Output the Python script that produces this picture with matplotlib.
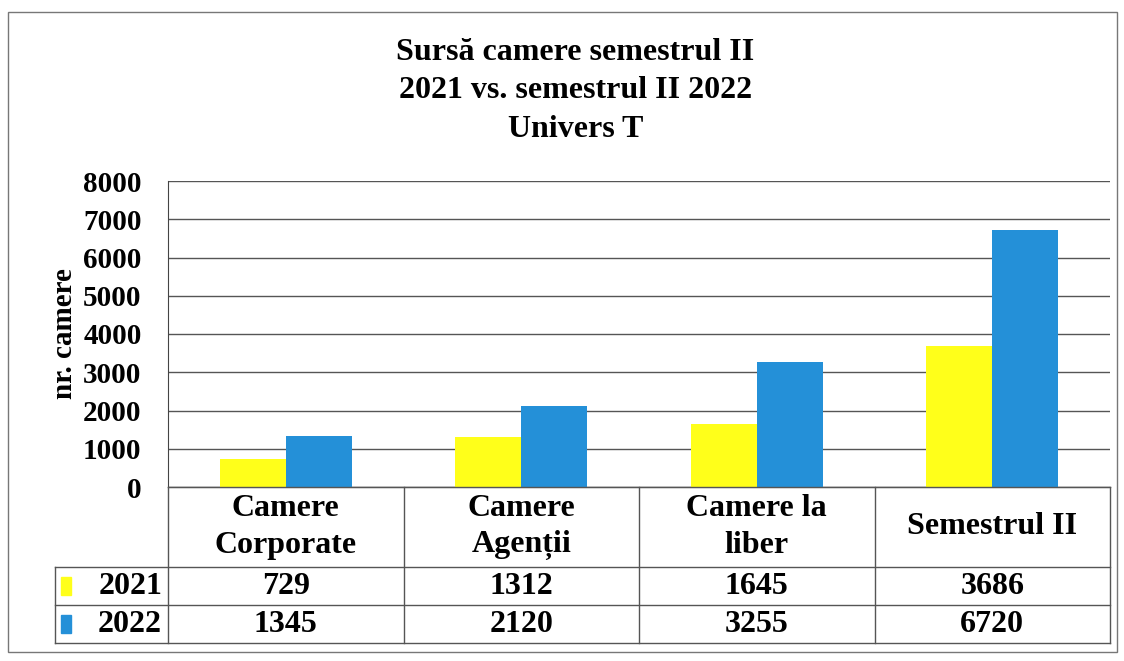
import matplotlib
matplotlib.use("Agg")
import matplotlib.pyplot as plt
from matplotlib.patches import Rectangle
from matplotlib.lines import Line2D

categories = ["Camere\nCorporate", "Camere\nAgenții", "Camere la\nliber", "Semestrul II"]
series_names = ["2021", "2022"]
values_2021 = [729, 1312, 1645, 3686]
values_2022 = [1345, 2120, 3255, 6720]
colors = ["#FFFF1A", "#2490D8"]
title = "Sursă camere semestrul II\n2021 vs. semestrul II 2022\nUnivers T"
ylabel = "nr. camere"
yticks = [0, 1000, 2000, 3000, 4000, 5000, 6000, 7000, 8000]

plt.rcParams['font.family'] = ['Liberation Serif', 'DejaVu Serif']
plt.rcParams['font.weight'] = 'bold'

W, H = 1124, 661
fig = plt.figure(figsize=(W / 100, H / 100), dpi=100)

def fx(px):
    return px / W

def fy(py):
    return 1 - py / H

# plot area
L, R, T, B = 168, 1110, 181, 487
ax = fig.add_axes([fx(L), fy(B), fx(R - L), fy(T) - fy(B)])
n = len(categories)
xs = list(range(n))
bw = 0.28
ax.bar([x - bw / 2 for x in xs], values_2021, width=bw, color=colors[0], zorder=3)
ax.bar([x + bw / 2 for x in xs], values_2022, width=bw, color=colors[1], zorder=3)
ax.set_xlim(-0.5, n - 0.5)
ax.set_ylim(0, 8000)
ax.set_yticks(yticks)
ax.set_yticklabels([str(v) for v in yticks], fontsize=21, fontweight='bold')
ax.tick_params(axis='y', length=0, pad=19)
ax.set_xticks([])
ax.grid(axis='y', color='#555555', linewidth=1.0, zorder=0)
for s in ['top', 'right']:
    ax.spines[s].set_visible(False)
ax.spines['left'].set_color('#444444')
ax.spines['bottom'].set_color('#444444')
ax.set_ylabel(ylabel, fontsize=21, fontweight='bold', labelpad=4)

fig.text(0.512, fy(91), title, ha='center', va='center', fontsize=23,
         fontweight='bold', linespacing=1.42)

# data table below the plot, sharing the x scale
tab_top, tab_bot = B, 643
tax = fig.add_axes([fx(L), fy(tab_bot), fx(R - L), fy(tab_top) - fy(tab_bot)], sharex=ax)
tax.set_ylim(0, 1)
tax.axis('off')
rows_h = [80, 38, 38]
tot = sum(rows_h)
ylines = [1.0]
acc = 0
for h in rows_h:
    acc += h
    ylines.append(1 - acc / tot)
legend_w = (L - 55) / ((R - L) / n)
x0 = -0.5 - legend_w
lc = '#555555'
lw = 1.0
# horizontal lines
tax.add_line(Line2D([-0.5, n - 0.5], [ylines[0]] * 2, color=lc, lw=lw, clip_on=False))
for yl in ylines[1:]:
    tax.add_line(Line2D([x0, n - 0.5], [yl] * 2, color=lc, lw=lw, clip_on=False))
# vertical lines
for i in range(n + 1):
    tax.add_line(Line2D([i - 0.5] * 2, [ylines[0], ylines[-1]], color=lc, lw=lw, clip_on=False))
tax.add_line(Line2D([x0] * 2, [ylines[1], ylines[-1]], color=lc, lw=lw, clip_on=False))

for i, c in enumerate(categories):
    tax.text(i, (ylines[0] + ylines[1]) / 2, c, ha='center', va='center', fontsize=23,
             fontweight='bold', linespacing=1.35, clip_on=False)
for r, (name, vals) in enumerate([(series_names[0], values_2021), (series_names[1], values_2022)]):
    yc = (ylines[r + 1] + ylines[r + 2]) / 2
    for i, v in enumerate(vals):
        tax.text(i, yc, str(v), ha='center', va='center', fontsize=23, fontweight='bold',
                 clip_on=False)
    tax.text(-0.5 - 0.025, yc, name, ha='right', va='center', fontsize=23, fontweight='bold',
             clip_on=False)
    tax.add_patch(Rectangle((x0 + 0.025, yc - 0.06), 0.045, 0.12, color=colors[r],
                            clip_on=False, transform=tax.transData))

# outer frame
fig.add_artist(Rectangle((fx(8), fy(652)), fx(1117 - 8), fy(12) - fy(652),
                         fill=False, edgecolor='#777777', lw=1.0, transform=fig.transFigure))

fig.savefig("out.png", dpi=100)
